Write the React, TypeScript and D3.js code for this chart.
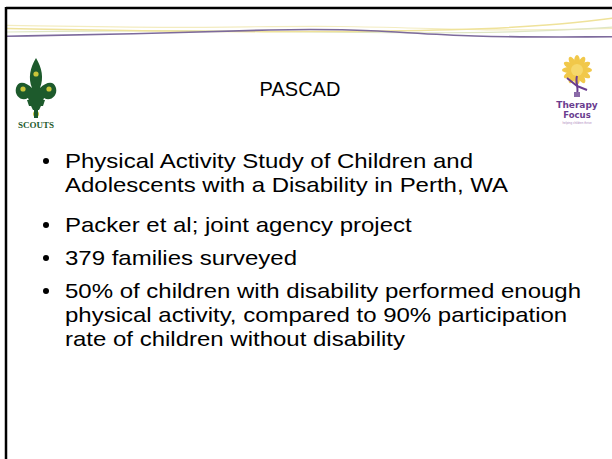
import React from 'react';
import * as d3 from 'd3';

// slide text
const title = 'PASCAD';
const bullets = [
  ['Physical Activity Study of Children and', 'Adolescents with a Disability in Perth, WA'],
  ['Packer et al; joint agency project'],
  ['379 families surveyed'],
  ['50% of children with disability performed enough', 'physical activity, compared to 90% participation', 'rate of children without disability'],
];

// header swoosh control points (slide units: x 0..100, y 0..10)
const purpleWave = [[0, 7.4], [20, 6.8], [45, 5.0], [60, 5.2], [76, 7.8], [100, 7.6]];
const yellowWave = [[0, 4.8], [25, 5.8], [50, 6.0], [75, 5.4], [90, 3.8], [100, 1.4]];
const yellowWave2 = [[0, 3.8], [30, 4.8], [55, 3.6], [80, 5.8], [100, 4.8]];
const greenWave = [[0, 6.0], [30, 5.2], [60, 6.4], [85, 6.2], [100, 4.4]];

const W = 612;
const H = 459;

function Header() {
  const x = d3.scaleLinear().domain([0, 100]).range([7, W]);
  const y = d3.scaleLinear().domain([0, 10]).range([14, 44]);
  const line = d3.line<number[]>().x(d => x(d[0])).y(d => y(d[1])).curve(d3.curveBasis);
  return (
    <g>
      <path d={line(yellowWave2) || ''} fill="none" stroke="#f3ecc0" strokeWidth={1.2} />
      <path d={line(greenWave) || ''} fill="none" stroke="#dfe6c4" strokeWidth={1.2} />
      <path d={line(yellowWave) || ''} fill="none" stroke="#efe29a" strokeWidth={1.5} />
      <path d={line(purpleWave) || ''} fill="none" stroke="#7d6a9c" strokeWidth={1.6} />
    </g>
  );
}

function ScoutsLogo() {
  // simple fleur-de-lis
  return (
    <g transform="translate(36,88)">
      <path
        d="M0,-30 C6,-20 8,-10 4,0 C10,-6 18,-8 20,0 C22,8 14,14 8,10 C6,16 4,20 3,22 L-3,22 C-4,20 -6,16 -8,10 C-14,14 -22,8 -20,0 C-18,-8 -10,-6 -4,0 C-8,-10 -6,-20 0,-30 Z"
        fill="#1d5a2c"
      />
      <path d="M-9,12 L9,12 L7,18 L-7,18 Z" fill="#1d5a2c" />
      <circle cx={0} cy={-14} r={2.6} fill="#c9c53a" />
      <circle cx={-13} cy={1} r={2.6} fill="#c9c53a" />
      <circle cx={13} cy={1} r={2.6} fill="#c9c53a" />
      <circle cx={0} cy={26} r={3} fill="#c9c53a" />
      <path d="M0,22 L0,30" stroke="#1d5a2c" strokeWidth={4} />
      <text x={0} y={40} textAnchor="middle" fontFamily="'Liberation Serif', serif" fontSize={9} fill="#1d5a2c" fontWeight="bold">SCOUTS</text>
    </g>
  );
}

function TherapyLogo() {
  const petals = d3.range(12).map(i => (i * 360) / 12);
  return (
    <g transform="translate(577,70)">
      {petals.map(a => (
        <ellipse key={a} cx={0} cy={-8} rx={3} ry={7} fill="#f1c84a" transform={`rotate(${a})`} />
      ))}
      <circle cx={0} cy={0} r={6} fill="#f6d86b" />
      <path d="M0,6 C-2,12 2,18 0,24" stroke="#6a3d8f" strokeWidth={2} fill="none" />
      <path d="M0,16 L-10,8" stroke="#6a3d8f" strokeWidth={2} />
      <path d="M0,16 L10,20" stroke="#6a3d8f" strokeWidth={2} />
      <rect x={-3} y={22} width={6} height={5} fill="#8a6aa8" />
      <text x={0} y={38} textAnchor="middle" fontFamily="'DejaVu Sans', sans-serif" fontSize={9} fontWeight="bold" fill="#6a3d8f">Therapy</text>
      <text x={0} y={48} textAnchor="middle" fontFamily="'DejaVu Sans', sans-serif" fontSize={8.5} fontWeight="bold" fill="#6a3d8f">Focus</text>
      <text x={0} y={54} textAnchor="middle" fontFamily="sans-serif" fontSize={3} fill="#b08ac0">helping children thrive</text>
    </g>
  );
}

export default function App() {
  const lineGap = 24;
  const itemTops = [168, 232, 265, 298];
  // slide text is rendered a little wide, as in the original export
  const stretch = 1.2;
  return (
    <div style={{ position: 'absolute', left: 0, top: 0 }}>
      <svg width={W} height={H} style={{ display: 'block', background: '#fff' }}>
        <rect width={W} height={H} fill="#fff" />
        <Header />
        <line x1={6} y1={8} x2={W} y2={8} stroke="#000" strokeWidth={2.5} />
        <line x1={6} y1={7} x2={6} y2={H} stroke="#000" strokeWidth={2.5} />
        <ScoutsLogo />
        <TherapyLogo />
        <text x={300} y={96} textAnchor="middle" fontFamily="'Liberation Sans', Arial, sans-serif" fontSize={20} fill="#000">{title}</text>
        <g fontFamily="'Liberation Sans', Arial, sans-serif" fontSize={20} fill="#000">
          {bullets.map((lines, i) => (
            <g key={i}>
              <circle cx={46} cy={itemTops[i] - 7} r={3} fill="#000" />
              {lines.map((t, j) => (
                <text key={j} transform={`translate(65,${itemTops[i] + j * lineGap}) scale(${stretch},1)`}>{t}</text>
              ))}
            </g>
          ))}
        </g>
      </svg>
    </div>
  );
}
